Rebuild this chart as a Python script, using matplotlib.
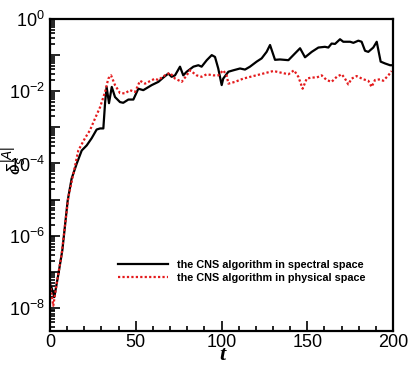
import numpy as np
import matplotlib
matplotlib.use("Agg")
import matplotlib.pyplot as plt
from matplotlib.ticker import LogLocator, FuncFormatter, MultipleLocator, NullFormatter

plt.rcParams['font.family'] = ['Liberation Sans', 'DejaVu Sans']
plt.rcParams['mathtext.fontset'] = 'custom'
plt.rcParams['mathtext.rm'] = 'Liberation Sans'
plt.rcParams['mathtext.it'] = 'Liberation Sans:italic'

# spectral-space CNS (black solid): time and log10 of error
t_spec = [0.6, 2.5, 4.9, 7.2, 10.3, 12.6, 15.6, 18.5, 21.4, 24.3, 27.2, 29.2, 31.1,
          32.1, 33.0, 34.4, 36.0, 37.9, 40.8, 42.7, 45.7, 48.6, 51.5, 54.4, 59.3,
          63.2, 66.1, 69.0, 70.9, 72.9, 75.8, 77.7, 79.7, 83.6, 86.5, 88.4, 91.4,
          94.3, 96.2, 98.1, 100.1, 101.0, 104.0, 106.9, 110.8, 113.7, 116.6, 120.5,
          123.4, 126.3, 128.3, 131.2, 134.1, 139.0, 142.9, 145.8, 148.7, 152.6,
          156.5, 160.3, 162.3, 164.2, 166.2, 169.1, 171.0, 175.0, 176.9, 179.8,
          181.7, 183.7, 185.6, 188.5, 190.5, 192.8, 195.3, 198.3, 200.0]
log_spec = [-7.39, -7.7, -7.06, -6.4, -5.03, -4.42, -4.0, -3.64, -3.5, -3.3, -3.06, -3.03, -3.03,
            -2.33, -1.88, -2.33, -1.88, -2.16, -2.3, -2.32, -2.23, -2.23, -1.93, -1.97, -1.83,
            -1.74, -1.62, -1.51, -1.6, -1.56, -1.32, -1.56, -1.46, -1.32, -1.28, -1.32, -1.14,
            -1.0, -1.05, -1.37, -1.83, -1.65, -1.46, -1.42, -1.37, -1.4, -1.32, -1.18,
            -1.09, -0.91, -0.72, -1.13, -1.12, -1.14, -0.95, -0.81, -1.06, -0.91,
            -0.79, -0.77, -0.79, -0.68, -0.69, -0.56, -0.63, -0.63, -0.66, -0.60,
            -0.63, -0.88, -0.91, -0.79, -0.63, -1.18, -1.23, -1.28, -1.28]

# physical-space CNS (red dotted)
t_phys = [0.0, 1.9, 3.9, 6.8, 10.7, 13.6, 16.5, 20.4, 23.3, 26.2, 29.2, 32.1, 34.0,
          35.6, 37.9, 40.8, 43.7, 46.6, 49.6, 52.5, 55.4, 61.2, 63.1, 67.0, 70.0,
          72.9, 76.8, 79.7, 81.6, 85.5, 88.4, 91.4, 95.2, 98.1, 101.0, 103.0, 104.0,
          107.9, 112.7, 118.5, 124.4, 130.2, 132.2, 135.1, 139.0, 142.3, 144.8, 147.3,
          149.7, 152.6, 155.5, 158.4, 161.3, 164.2, 167.2, 170.1, 172.0, 173.9, 175.9,
          178.8, 182.7, 185.6, 187.5, 189.5, 192.4, 194.3, 197.3, 199.2]
log_phys = [-7.33, -7.94, -7.33, -6.5, -4.93, -4.29, -3.64, -3.3, -3.08, -2.76, -2.44, -2.02, -1.65,
            -1.56, -1.83, -2.05, -2.06, -1.97, -2.02, -1.71, -1.79, -1.65, -1.69, -1.56, -1.49,
            -1.65, -1.74, -1.56, -1.42, -1.56, -1.6, -1.53, -1.56, -1.56, -1.42, -1.56, -1.79,
            -1.74, -1.65, -1.58, -1.51, -1.44, -1.46, -1.49, -1.53, -1.42, -1.6, -1.93,
            -1.65, -1.62, -1.62, -1.56, -1.69, -1.74, -1.6, -1.53, -1.65, -1.81, -1.65,
            -1.58, -1.67, -1.71, -1.88, -1.69, -1.67, -1.71, -1.56, -1.44]

labels = ["the CNS algorithm in spectral space", "the CNS algorithm in physical space"]

fig = plt.figure(figsize=(4.15, 3.69), dpi=100)
ax = fig.add_axes([0.1205, 0.103, 0.8265, 0.8455])

ax.plot(t_spec, 10 ** np.array(log_spec), color='black', lw=1.6, label=labels[0])
ax.plot(t_phys, 10 ** np.array(log_phys), color='#e41a1c', lw=1.6, ls=(0, (1, 1)), label=labels[1])

ax.set_yscale('log')
ax.set_xlim(0, 200)
ax.set_ylim(2.3e-9, 1)

ax.xaxis.set_major_locator(MultipleLocator(50))
ax.xaxis.set_minor_locator(MultipleLocator(10))
ax.yaxis.set_major_locator(LogLocator(base=10, numticks=20))
ax.yaxis.set_minor_locator(LogLocator(base=10, subs=np.arange(2, 10), numticks=20))
ax.yaxis.set_minor_formatter(NullFormatter())


def yfmt(v, pos):
    e = int(round(np.log10(v)))
    if e % 2 != 0:
        return ''
    return r'$\mathregular{10^{%d}}$' % e


ax.yaxis.set_major_formatter(FuncFormatter(yfmt))

ax.tick_params(which='both', direction='in', top=False, right=False, labelsize=13, width=1.2)
ax.tick_params(which='major', length=7)
ax.tick_params(which='minor', length=3.5)
ax.tick_params(axis='x', pad=2)
for s in ax.spines.values():
    s.set_linewidth(1.6)

# axis titles placed by hand, as in the original figure
fig.text(222 / 415, 1 - 355 / 369, 't', fontfamily='Liberation Serif', fontstyle='italic',
         fontweight='bold', fontsize=16, ha='center', va='center')
fig.text(15 / 415, 1 - 160 / 369, r'$\delta_s^{|A|}$', fontsize=14, rotation=90,
         ha='center', va='center')

ax.legend(loc='center left', bbox_to_anchor=(0.198, 0.191), frameon=False,
          prop={'weight': 'bold', 'size': 7.8}, handlelength=4.6, handletextpad=0.85,
          labelspacing=0.25, borderpad=0, borderaxespad=0)

fig.savefig('out.png', dpi=100)
